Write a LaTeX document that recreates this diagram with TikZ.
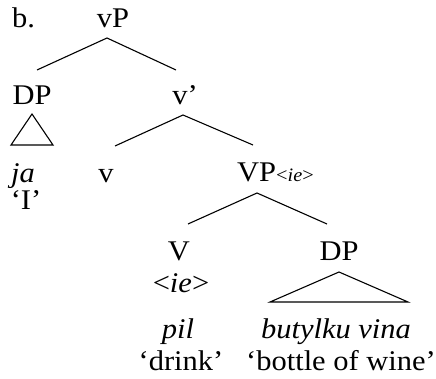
\documentclass[tikz,border=0pt]{standalone}
\usepackage{fontspec}
\setmainfont{Liberation Serif}[FakeStretch=1.07]
\begin{document}
\begin{tikzpicture}[x=1pt,y=-1pt,
  lab/.style={anchor=base,inner sep=0pt,font=\fontsize{28.5}{28.5}\selectfont},
  br/.style={line width=1.1pt}]
\useasboundingbox (0,0) rectangle (436,379);
\node[lab,anchor=base west] (b) at (12,28) {b.};
\node[lab] (vP) at (113,28) {vP};
\node[lab] (DP1) at (32,105) {DP};
\node[lab] (vbar) at (185,105) {v’};
\node[lab] (ja) at (23,183) {\textit{ja}};
\node[lab] (I) at (26,210) {‘I’};
\node[lab] (v) at (106,183) {v};
\node[lab,anchor=base west] (VP) at (237,182) {VP{\fontsize{19}{19}\selectfont<\textit{ie}>}};
\node[lab] (V) at (179,260) {V};
\node[lab] (ie) at (181,292) {<\textit{ie}>};
\node[lab] (DP2) at (339,260) {DP};
\node[lab] (pil) at (178,338) {\textit{pil}};
\node[lab] (bv) at (336,338) {\textit{butylku vina}};
\node[lab] (drink) at (181,370) {‘drink’};
\node[lab] (bow) at (341,370) {‘bottle of wine’};
% branch points
\coordinate (vPa) at (107,38);
\coordinate (vPl) at (37,70);
\coordinate (vPr) at (176,70);
\coordinate (vba) at (183,115);
\coordinate (vbl) at (115,146);
\coordinate (vbr) at (253,145);
\coordinate (VPa) at (257,193);
\coordinate (VPl) at (188,224);
\coordinate (VPr) at (327,224);
\coordinate (t1a) at (32,114);
\coordinate (t1l) at (11,145);
\coordinate (t1r) at (53,145);
\coordinate (t2a) at (339,272);
\coordinate (t2l) at (270,302);
\coordinate (t2r) at (408,302);
\draw[br] (vPl) -- (vPa) -- (vPr);
\draw[br] (vbl) -- (vba) -- (vbr);
\draw[br] (VPl) -- (VPa) -- (VPr);
\draw[br] (t1a) -- (t1l) -- (t1r) -- cycle;
\draw[br] (t2a) -- (t2l) -- (t2r) -- cycle;
\end{tikzpicture}
\end{document}
